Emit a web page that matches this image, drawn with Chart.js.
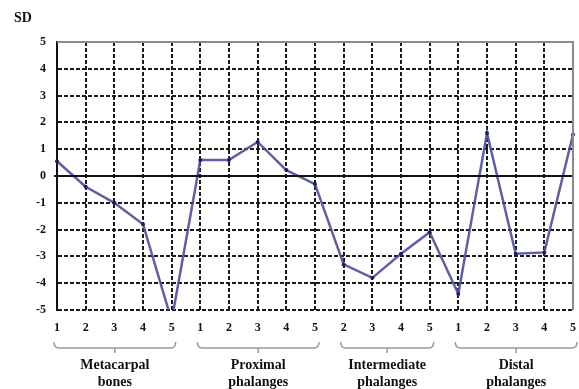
<!DOCTYPE html>
<html>
<head>
<meta charset="utf-8">
<script src="https://cdn.jsdelivr.net/npm/chart.js@4"></script>
<style>
  html, body { margin: 0; padding: 0; background: #fff; }
  #wrap { width: 579px; height: 389px; }
</style>
</head>
<body>
<div id="wrap"><canvas id="chart"></canvas></div>
<script>
// bone index within each group
const categories = ["1", "2", "3", "4", "5", "1", "2", "3", "4", "5", "2", "3", "4", "5", "1", "2", "3", "4", "5"]
// SD values
const sdValues = [0.55, -0.4, -1.0, -1.8, -5.4, 0.6, 0.6, 1.27, 0.22, -0.3, -3.3, -3.8, -2.9, -2.1, -4.4, 1.6, -2.9, -2.85, 1.55]

const groupNames = [["Metacarpal", "bones"], ["Proximal", "phalanges"], ["Intermediate", "phalanges"], ["Distal", "phalanges"]]
const groupFrom = [0, 5, 10, 14]
const groupTo = [4, 9, 13, 18]

const serif = "'Liberation Serif', 'Times New Roman', serif"

const extras = {
    id: "extras",
    afterDatasetsDraw(chart) {
        const { ctx, chartArea: a, scales: { x, y } } = chart
        ctx.save()
        // solid zero line
        const y0 = y.getPixelForValue(0)
        ctx.strokeStyle = "#111"
        ctx.lineWidth = 2
        ctx.beginPath()
        ctx.moveTo(a.left - 3, y0)
        ctx.lineTo(a.right, y0)
        ctx.stroke()
        // top and right frame
        ctx.strokeStyle = "#8a8a8a"
        ctx.beginPath()
        ctx.moveTo(a.left, a.top)
        ctx.lineTo(a.right, a.top)
        ctx.lineTo(a.right, a.bottom)
        ctx.stroke()
        ctx.restore()
    },
    afterDraw(chart) {
        const { ctx, chartArea: a, scales: { x } } = chart
        ctx.save()
        const top = a.bottom + 32
        const mid = a.bottom + 38
        for (let i = 0; i < groupNames.length; i++) {
            const x1 = x.getPixelForValue(groupFrom[i]) - 3
            const x2 = Math.min(x.getPixelForValue(groupTo[i]) + 4, chart.width + 4)
            const cx = (x1 + x2) / 2
            ctx.strokeStyle = "#9a9a9a"
            ctx.lineWidth = 1.5
            ctx.beginPath()
            ctx.moveTo(x1, top)
            ctx.quadraticCurveTo(x1, mid, x1 + 5, mid)
            ctx.lineTo(x2 - 5, mid)
            ctx.quadraticCurveTo(x2, mid, x2, top)
            ctx.moveTo(cx, mid)
            ctx.lineTo(cx, mid + 5)
            ctx.stroke()

            ctx.fillStyle = "#111"
            ctx.font = "bold 14px " + serif
            ctx.textAlign = "center"
            ctx.textBaseline = "middle"
            ctx.fillText(groupNames[i][0], cx, a.bottom + 55)
            ctx.fillText(groupNames[i][1], cx, a.bottom + 72)
        }
        ctx.restore()
    }
}

new Chart(document.getElementById("chart"), {
    type: "line",
    data: {
        labels: categories,
        datasets: [{
            data: sdValues,
            borderColor: "rgba(78, 78, 158, 0.9)",
            borderWidth: 2.5,
            pointRadius: 2,
            pointBackgroundColor: "#1e1e6a",
            pointBorderWidth: 0,
            tension: 0,
            fill: false
        }]
    },
    options: {
        responsive: true,
        maintainAspectRatio: false,
        animation: false,
        layout: { padding: { left: 14, right: 6, top: 0, bottom: 0 } },
        plugins: {
            legend: { display: false },
            tooltip: { enabled: false },
            title: {
                display: true,
                text: "SD",
                align: "start",
                color: "#111",
                font: { family: serif, size: 14, weight: "bold" },
                padding: { top: 10, bottom: 15.2 }
            }
        },
        scales: {
            x: {
                type: "category",
                offset: false,
                // invisible tick marks push the labels down without widening the side padding
                grid: { color: "#1a1a1a", lineWidth: 2, drawTicks: true, tickLength: 11, tickColor: "rgba(0,0,0,0)" },
                border: { display: false, dash: [4, 2] },
                ticks: {
                    color: "#111",
                    font: { family: serif, size: 12, weight: "bold" },
                    padding: 0,
                    maxRotation: 0,
                    autoSkip: false
                },
                afterFit(scale) { scale.height = 79 }
            },
            y: {
                min: -5,
                max: 5,
                grid: { color: "#1a1a1a", lineWidth: 2, drawTicks: false },
                border: { display: true, color: "#111", width: 2, dash: [4, 2] },
                ticks: {
                    stepSize: 1,
                    color: "#111",
                    font: { family: serif, size: 12, weight: "bold" },
                    padding: 11
                },
                afterFit(scale) { scale.width = 43 }
            }
        }
    },
    plugins: [extras]
})
</script>
</body>
</html>
